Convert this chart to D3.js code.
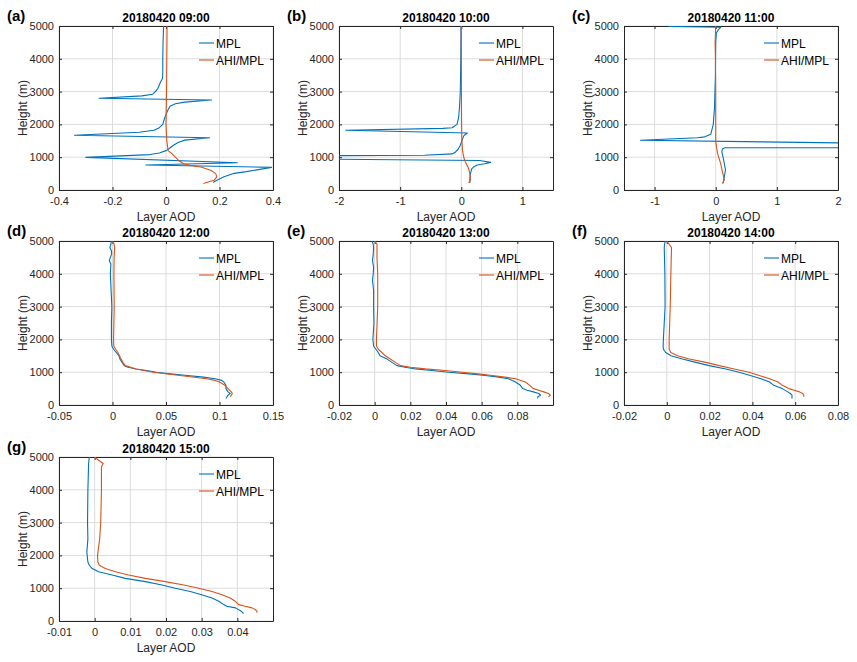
<!DOCTYPE html>
<html>
<head>
<meta charset="utf-8">
<script src="https://cdn.jsdelivr.net/npm/d3@7"></script>
<style>
body { margin: 0; background: #fff; }
text { font-family: "Liberation Sans", Arial, sans-serif; fill: #262626; }
</style>
</head>
<body>
<svg id="chart" width="857" height="662"></svg>
<script>
// profiles as [height (m), layer AOD]
const mplA = [[5000,-0.009],[4500,-0.011],[4000,-0.012],[3600,-0.012],[3400,-0.013],[3300,-0.02],[3100,-0.03],[3000,-0.04],[2920,-0.05],[2870,-0.09],[2795,-0.25],[2744,0.17],[2680,0.07],[2630,0.035],[2550,0.015],[2400,0.005],[2200,-0.005],[2000,-0.012],[1900,-0.025],[1820,-0.045],[1760,-0.1],[1667,-0.342],[1595,0.163],[1520,0.07],[1450,0.045],[1350,0.025],[1250,0.01],[1200,0],[1130,-0.025],[1080,-0.06],[996,-0.3],[833,0.267],[762,-0.075],[691,0.395],[560,0.3],[508,0.255],[406,0.217],[300,0.19],[254,0.18],[224,0.177]];
const ahiA = [[5000,0.004],[4000,0.003],[3000,0.002],[2000,0.0],[1500,0.003],[1200,0.008],[1100,0.023],[1000,0.035],[900,0.047],[800,0.066],[750,0.09],[700,0.13],[600,0.167],[500,0.186],[400,0.19],[300,0.18],[250,0.16],[200,0.14]];

const mplB = [[5000,-0.005],[4000,-0.008],[3000,-0.016],[2500,-0.03],[2200,-0.045],[2000,-0.07],[1900,-0.15],[1880,-0.3],[1820,-1.89],[1737,0.1],[1700,0.07],[1650,0.04],[1550,0.02],[1450,0],[1350,-0.02],[1250,-0.05],[1150,-0.1],[1100,-0.15],[1060,-0.6],[1047,-2.3],[940,-2.3],[900,0.3],[843,0.48],[800,0.38],[762,0.26],[700,0.2],[646,0.17],[500,0.15],[350,0.14],[215,0.14]];
const ahiB = [[5000,0],[3000,0.002],[2000,0.005],[1500,0.01],[1200,0.02],[1000,0.04],[863,0.065],[680,0.115],[500,0.14],[305,0.15],[213,0.12]];

const mplC = [[4990,-0.77],[4960,0.08],[4880,0.04],[4780,0.01],[4500,0.0],[3500,-0.005],[2500,-0.02],[2000,-0.04],[1700,-0.08],[1620,-0.18],[1595,-0.3],[1515,-1.23],[1423,2.6],[1290,2.6],[1290,0.15],[1250,0.11],[1168,0.1],[1000,0.12],[814,0.14],[610,0.16],[400,0.14],[204,0.12]];
const ahiC = [[5000,0],[4500,-0.01],[4000,-0.005],[3000,0],[2000,0],[1473,0],[1118,0.03],[814,0.08],[559,0.11],[305,0.14],[200,0.11]];

const mplD = [[5000,-0.001],[4900,-0.0015],[4800,-0.0025],[4700,-0.001],[4600,-0.0008],[4500,-0.002],[4400,-0.003],[4300,-0.0015],[4000,-0.002],[3500,-0.0013],[3000,-0.0006],[2500,-0.001],[2000,-0.001],[1800,-0.0006],[1700,0.001],[1600,0.0035],[1500,0.006],[1400,0.007],[1300,0.009],[1200,0.011],[1150,0.0145],[1100,0.022],[1050,0.032],[1000,0.041],[950,0.054],[900,0.07],[850,0.085],[800,0.096],[750,0.102],[700,0.104],[600,0.106],[500,0.106],[400,0.108],[350,0.11],[300,0.108],[250,0.107],[200,0.106]];
const ahiD = [[5000,0.0003],[4900,0.0015],[4800,0.002],[4500,0.0015],[4000,0.0013],[3000,0.0016],[2000,0.001],[1800,0.0012],[1700,0.003],[1600,0.005],[1500,0.0065],[1400,0.008],[1300,0.0097],[1200,0.012],[1100,0.022],[1000,0.038],[900,0.063],[800,0.088],[750,0.096],[700,0.1],[600,0.105],[500,0.108],[400,0.111],[350,0.112],[300,0.111],[250,0.11]];

const mplE = [[5000,-0.0015],[4900,-0.0008],[4800,-0.0006],[4600,-0.0008],[4400,-0.0012],[4200,-0.0006],[4000,-0.0008],[3800,-0.0012],[3500,-0.0006],[3000,-0.0006],[2500,-0.0004],[2000,-0.001],[1800,-0.0006],[1700,0.0007],[1600,0.002],[1500,0.003],[1400,0.007],[1300,0.0097],[1200,0.0125],[1150,0.017],[1100,0.023],[1050,0.032],[1000,0.0415],[950,0.053],[900,0.062],[850,0.0695],[800,0.075],[700,0.079],[600,0.0817],[500,0.083],[450,0.0855],[400,0.089],[350,0.092],[300,0.093],[250,0.0915],[200,0.0914]];
const ahiE = [[5000,0],[4900,0.0013],[4500,0.0013],[4000,0.0017],[3000,0.0017],[2000,0.001],[1800,0.001],[1700,0.002],[1600,0.004],[1500,0.006],[1400,0.0088],[1300,0.0116],[1200,0.0144],[1150,0.02],[1100,0.0284],[1050,0.0396],[1000,0.049],[950,0.058],[900,0.066],[850,0.073],[800,0.079],[700,0.0845],[600,0.087],[500,0.089],[450,0.092],[400,0.0948],[350,0.0975],[300,0.0985],[250,0.0975]];

const mplF = [[5000,-0.0008],[4800,-0.0012],[4000,-0.0009],[3000,-0.0008],[2500,-0.0012],[2000,-0.0016],[1800,-0.0017],[1700,-0.0016],[1600,-0.0005],[1500,0.0019],[1400,0.0073],[1300,0.0136],[1200,0.0198],[1100,0.0276],[1000,0.0338],[900,0.039],[800,0.044],[700,0.048],[600,0.05],[550,0.052],[500,0.054],[400,0.0565],[350,0.0577],[300,0.0585],[200,0.0585]];
const ahiF = [[5000,0],[4900,0.0011],[4800,0.0022],[4000,0.0019],[3000,0.0016],[2000,0.0011],[1700,0.0011],[1600,0.0019],[1500,0.005],[1400,0.0105],[1300,0.0183],[1200,0.0245],[1100,0.0315],[1000,0.0385],[900,0.0432],[800,0.048],[700,0.052],[600,0.054],[500,0.057],[450,0.0596],[400,0.062],[350,0.0635],[300,0.064],[250,0.064]];

const mplG = [[5000,-0.0015],[4800,-0.0017],[4000,-0.0019],[3000,-0.002],[2500,-0.0019],[2100,-0.0022],[2000,-0.0021],[1800,-0.0019],[1700,-0.0015],[1600,-0.0007],[1500,0.0011],[1400,0.0049],[1300,0.0086],[1200,0.0142],[1100,0.0189],[1000,0.0226],[900,0.0268],[800,0.030],[700,0.0329],[600,0.0348],[500,0.0362],[450,0.037],[400,0.0395],[300,0.0411],[250,0.0416],[220,0.0416]];
const ahiG = [[5000,0],[4900,0.0011],[4800,0.0024],[4700,0.0019],[4000,0.0019],[3000,0.0017],[2500,0.0014],[2000,0.0008],[1800,0.0009],[1700,0.0013],[1600,0.003],[1500,0.0058],[1400,0.0095],[1300,0.0142],[1200,0.0198],[1100,0.025],[1000,0.0292],[900,0.0329],[800,0.0357],[700,0.038],[600,0.0394],[500,0.0404],[450,0.0422],[400,0.0441],[350,0.045],[300,0.0455],[250,0.0455]];

const labels = ["(a)", "(b)", "(c)", "(d)", "(e)", "(f)", "(g)"];
const titles = ["20180420 09:00", "20180420 10:00", "20180420 11:00", "20180420 12:00", "20180420 13:00", "20180420 14:00", "20180420 15:00"];
const xDomains = [[-0.4, 0.4], [-2, 1.5], [-1.5, 2], [-0.05, 0.15], [-0.02, 0.1], [-0.02, 0.08], [-0.01, 0.05]];
const xTickSets = [
    [-0.4, -0.2, 0, 0.2, 0.4],
    [-2, -1, 0, 1],
    [-1, 0, 1, 2],
    [-0.05, 0, 0.05, 0.1, 0.15],
    [-0.02, 0, 0.02, 0.04, 0.06, 0.08],
    [-0.02, 0, 0.02, 0.04, 0.06, 0.08],
    [-0.01, 0, 0.01, 0.02, 0.03, 0.04]
];
const yTicks = [0, 1000, 2000, 3000, 4000, 5000];
const mplSeries = [mplA, mplB, mplC, mplD, mplE, mplF, mplG];
const ahiSeries = [ahiA, ahiB, ahiC, ahiD, ahiE, ahiF, ahiG];
const seriesNames = ["MPL", "AHI/MPL"];

const colors = ["#0072BD", "#D95319"];
const colLeft = [59, 339, 624];
const rowTop = [26, 241, 457];
const w = 214, h = 164;

const svg = d3.select("#chart");
const fmt = d => String(+d.toFixed(3));

labels.forEach((lab, i) => {

    const left = colLeft[i % 3];
    const top = rowTop[Math.floor(i / 3)];

    const g = svg.append("g")
        .attr("transform", `translate(${left},${top})`);

    const x = d3.scaleLinear().domain(xDomains[i]).range([0, w]);
    const y = d3.scaleLinear().domain([0, 5000]).range([h, 0]);

    // grid
    g.append("g")
        .selectAll("line.gx")
        .data(xTickSets[i])
        .enter()
        .append("line")
        .attr("x1", d => x(d)).attr("x2", d => x(d))
        .attr("y1", 0).attr("y2", h)
        .attr("stroke", "#dcdcdc").attr("stroke-width", 1);

    g.append("g")
        .selectAll("line.gy")
        .data(yTicks)
        .enter()
        .append("line")
        .attr("x1", 0).attr("x2", w)
        .attr("y1", d => y(d)).attr("y2", d => y(d))
        .attr("stroke", "#dcdcdc").attr("stroke-width", 1);

    // axes, MATLAB style: ticks inside, box on
    const axisStyle = sel => {
        sel.select(".domain").attr("stroke", "#262626");
        sel.selectAll(".tick line").attr("stroke", "#262626");
        sel.selectAll(".tick text")
            .style("font-family", '"Liberation Sans", Arial, sans-serif')
            .attr("fill", "#262626");
    };

    g.append("g")
        .attr("transform", `translate(0,${h})`)
        .call(d3.axisBottom(x).tickValues(xTickSets[i]).tickFormat(fmt).tickSize(-3).tickSizeOuter(0).tickPadding(7))
        .attr("font-size", 11)
        .call(axisStyle);

    g.append("g")
        .call(d3.axisTop(x).tickValues(xTickSets[i]).tickFormat("").tickSize(-3).tickSizeOuter(0))
        .call(axisStyle);

    g.append("g")
        .call(d3.axisLeft(y).tickValues(yTicks).tickFormat(d3.format("d")).tickSize(-3).tickSizeOuter(0).tickPadding(5))
        .attr("font-size", 11)
        .call(axisStyle);

    g.append("g")
        .attr("transform", `translate(${w},0)`)
        .call(d3.axisRight(y).tickValues(yTicks).tickFormat("").tickSize(-3).tickSizeOuter(0))
        .call(axisStyle);

    // lines
    const clipId = "clip" + i;
    g.append("clipPath")
        .attr("id", clipId)
        .append("rect")
        .attr("width", w)
        .attr("height", h);

    const line = d3.line()
        .x(d => x(d[1]))
        .y(d => y(d[0]));

    [mplSeries[i], ahiSeries[i]].forEach((s, k) => {
        g.append("path")
            .datum(s)
            .attr("clip-path", `url(#${clipId})`)
            .attr("fill", "none")
            .attr("stroke", colors[k])
            .attr("stroke-width", 1.1)
            .attr("stroke-linejoin", "round")
            .attr("d", line);
    });

    // legend
    seriesNames.forEach((name, k) => {
        const ly = 17 + k * 17;
        g.append("line")
            .attr("x1", w - 74).attr("x2", w - 59)
            .attr("y1", ly).attr("y2", ly)
            .attr("stroke", colors[k])
            .attr("stroke-width", 1.1);
        g.append("text")
            .attr("x", w - 57)
            .attr("y", ly + 4.5)
            .attr("font-size", 12)
            .style("fill", "#000")
            .text(name);
    });

    // texts
    g.append("text")
        .attr("x", w / 2)
        .attr("y", -4)
        .attr("text-anchor", "middle")
        .attr("font-size", 12)
        .attr("font-weight", "bold")
        .style("fill", "#000")
        .text(titles[i]);

    g.append("text")
        .attr("x", -52)
        .attr("y", -5)
        .attr("font-size", 15)
        .attr("font-weight", "bold")
        .style("fill", "#000")
        .text(lab);

    g.append("text")
        .attr("x", w / 2)
        .attr("y", h + 31)
        .attr("text-anchor", "middle")
        .attr("font-size", 12)
        .text("Layer AOD");

    g.append("text")
        .attr("transform", `translate(-36,${h / 2}) rotate(-90)`)
        .attr("dy", "0.35em")
        .attr("text-anchor", "middle")
        .attr("font-size", 12)
        .text("Height (m)");
});
</script>
</body>
</html>
